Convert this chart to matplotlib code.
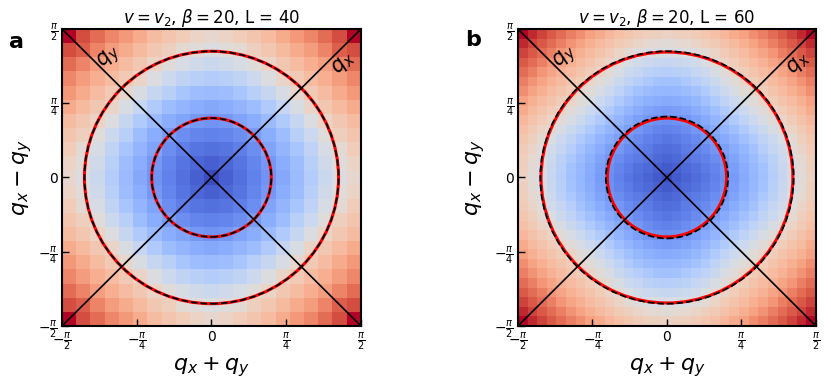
import matplotlib
matplotlib.use("Agg")
import matplotlib.pyplot as plt
import numpy as np
from matplotlib.patches import Circle

# Top-left quadrant of each map (edge row first, centre cell last).
# The other three quadrants are mirror images.
quad_l40 = [
    [1.00, 0.82, 0.70, 0.59, 0.50, 0.40, 0.30, 0.24, 0.18, 0.12, 0.08],
    [0.82, 0.75, 0.60, 0.48, 0.40, 0.32, 0.22, 0.16, 0.05, 0.02, -0.02],
    [0.70, 0.60, 0.47, 0.39, 0.30, 0.22, 0.12, 0.02, -0.05, -0.10, -0.13],
    [0.59, 0.48, 0.39, 0.30, 0.21, 0.11, -0.02, -0.12, -0.20, -0.25, -0.28],
    [0.50, 0.40, 0.30, 0.21, 0.08, -0.04, -0.16, -0.25, -0.34, -0.40, -0.42],
    [0.40, 0.32, 0.22, 0.11, -0.04, -0.17, -0.30, -0.40, -0.46, -0.51, -0.54],
    [0.30, 0.22, 0.12, -0.02, -0.16, -0.30, -0.42, -0.51, -0.57, -0.63, -0.65],
    [0.24, 0.16, 0.02, -0.12, -0.25, -0.40, -0.51, -0.61, -0.68, -0.73, -0.75],
    [0.18, 0.05, -0.05, -0.20, -0.34, -0.46, -0.57, -0.68, -0.76, -0.81, -0.83],
    [0.12, 0.02, -0.10, -0.25, -0.40, -0.51, -0.63, -0.73, -0.81, -0.87, -0.91],
    [0.08, -0.02, -0.13, -0.28, -0.42, -0.54, -0.65, -0.75, -0.83, -0.91, -1.00],
]

quad_l60 = [
    [1.00, 0.93, 0.85, 0.77, 0.70, 0.62, 0.55, 0.46, 0.40, 0.33, 0.28, 0.23, 0.19, 0.16, 0.15, 0.13],
    [0.93, 0.85, 0.78, 0.70, 0.62, 0.53, 0.45, 0.38, 0.32, 0.26, 0.20, 0.16, 0.11, 0.07, 0.04, 0.03],
    [0.85, 0.78, 0.70, 0.62, 0.52, 0.44, 0.38, 0.31, 0.25, 0.19, 0.12, 0.05, 0.01, -0.03, -0.05, -0.05],
    [0.77, 0.70, 0.62, 0.52, 0.44, 0.37, 0.31, 0.25, 0.18, 0.11, 0.04, -0.03, -0.08, -0.12, -0.14, -0.16],
    [0.70, 0.62, 0.52, 0.44, 0.37, 0.31, 0.25, 0.18, 0.11, 0.03, -0.04, -0.12, -0.17, -0.22, -0.25, -0.26],
    [0.62, 0.53, 0.44, 0.37, 0.31, 0.24, 0.18, 0.11, 0.03, -0.05, -0.13, -0.20, -0.26, -0.32, -0.36, -0.37],
    [0.55, 0.45, 0.38, 0.31, 0.25, 0.18, 0.11, 0.03, -0.05, -0.12, -0.21, -0.29, -0.36, -0.41, -0.44, -0.45],
    [0.46, 0.38, 0.31, 0.25, 0.18, 0.11, 0.03, -0.04, -0.12, -0.21, -0.30, -0.38, -0.45, -0.49, -0.52, -0.53],
    [0.40, 0.32, 0.25, 0.18, 0.11, 0.03, -0.05, -0.12, -0.21, -0.30, -0.39, -0.46, -0.52, -0.57, -0.60, -0.61],
    [0.33, 0.26, 0.19, 0.11, 0.03, -0.05, -0.12, -0.21, -0.30, -0.39, -0.46, -0.53, -0.59, -0.64, -0.67, -0.68],
    [0.28, 0.20, 0.12, 0.04, -0.04, -0.13, -0.21, -0.30, -0.39, -0.46, -0.53, -0.59, -0.64, -0.69, -0.73, -0.75],
    [0.23, 0.16, 0.05, -0.03, -0.12, -0.20, -0.29, -0.38, -0.46, -0.53, -0.59, -0.64, -0.70, -0.75, -0.78, -0.80],
    [0.19, 0.11, 0.01, -0.08, -0.17, -0.26, -0.36, -0.45, -0.52, -0.59, -0.64, -0.70, -0.75, -0.78, -0.83, -0.85],
    [0.16, 0.07, -0.03, -0.12, -0.22, -0.32, -0.41, -0.49, -0.57, -0.64, -0.69, -0.75, -0.78, -0.82, -0.86, -0.89],
    [0.15, 0.04, -0.05, -0.14, -0.25, -0.36, -0.44, -0.52, -0.60, -0.67, -0.73, -0.78, -0.83, -0.86, -0.90, -0.93],
    [0.13, 0.03, -0.05, -0.16, -0.26, -0.37, -0.45, -0.53, -0.61, -0.68, -0.75, -0.80, -0.85, -0.89, -0.93, -1.00],
]

# Fermi surface radii, in units of pi/2: [outer, inner]
fs_red_l40 = [0.85, 0.40]
fs_dash_l40 = [0.85, 0.40]
fs_red_l60 = [0.845, 0.40]
fs_dash_l60 = [0.85, 0.41]

titles = [r"$v = v_2$, $\beta = 20$, L = 40", r"$v = v_2$, $\beta = 20$, L = 60"]
panel_tags = ["a", "b"]
tick_labels = [r"$-\frac{\pi}{2}$", r"$-\frac{\pi}{4}$", "0", r"$\frac{\pi}{4}$", r"$\frac{\pi}{2}$"]


def full_map(quad):
    q = np.array(quad)
    half = np.hstack([q, q[:, -2::-1]])
    return np.vstack([half, half[-2::-1]])


h = np.pi / 2
fig = plt.figure(figsize=(8.31, 3.81), dpi=100)
ax_a = fig.add_axes([0.0746, 0.1444, 0.3598, 0.7795])
ax_b = fig.add_axes([0.6233, 0.1444, 0.3586, 0.7795])

panels = [
    (ax_a, quad_l40, fs_red_l40, fs_dash_l40, -0.095),
    (ax_b, quad_l60, fs_red_l60, fs_dash_l60, -0.105),
]

for i, (ax, quad, fs_red, fs_dash, ylab_x) in enumerate(panels):
    ax.imshow(full_map(quad), cmap="coolwarm", vmin=-1, vmax=1,
              extent=[-h, h, -h, h], interpolation="nearest", aspect="auto")

    lim = [-h, h]
    ax.plot(lim, lim, color="k", lw=1.2)
    ax.plot(lim, lim[::-1], color="k", lw=1.2)

    for r in fs_red:
        ax.add_patch(Circle((0, 0), r * h, fill=False, ec="red", lw=2.2))
    for r in fs_dash:
        ax.add_patch(Circle((0, 0), r * h, fill=False, ec="k", lw=1.3, ls="--"))

    ax.text(0.16, 0.905, r"$q_y$", transform=ax.transAxes, fontsize=15,
            rotation=45, ha="center", va="center")
    ax.text(0.94, 0.885, r"$q_x$", transform=ax.transAxes, fontsize=15,
            rotation=45, ha="center", va="center")

    ax.set_xlim(-h, h)
    ax.set_ylim(-h, h)
    ticks = [-h, -h / 2, 0, h / 2, h]
    ax.set_xticks(ticks)
    ax.set_yticks(ticks)
    ax.set_xticklabels(tick_labels)
    ax.set_yticklabels(tick_labels)
    ax.tick_params(direction="in", length=5, width=1, labelsize=10, pad=3)
    for sp in ax.spines.values():
        sp.set_linewidth(1.5)

    ax.set_title(titles[i], fontsize=12, pad=3)
    ax.set_xlabel(r"$q_x + q_y$", fontsize=16)
    ax.set_ylabel(r"$q_x - q_y$", fontsize=16)
    ax.xaxis.set_label_coords(0.5, -0.1)
    ax.yaxis.set_label_coords(ylab_x, 0.5)

fig.text(16 / 831, 1 - 42 / 381, panel_tags[0], fontsize=16, fontweight="bold",
         ha="center", va="center")
fig.text(473 / 831, 1 - 40 / 381, panel_tags[1], fontsize=16, fontweight="bold",
         ha="center", va="center")

fig.savefig("out.png", dpi=100)
